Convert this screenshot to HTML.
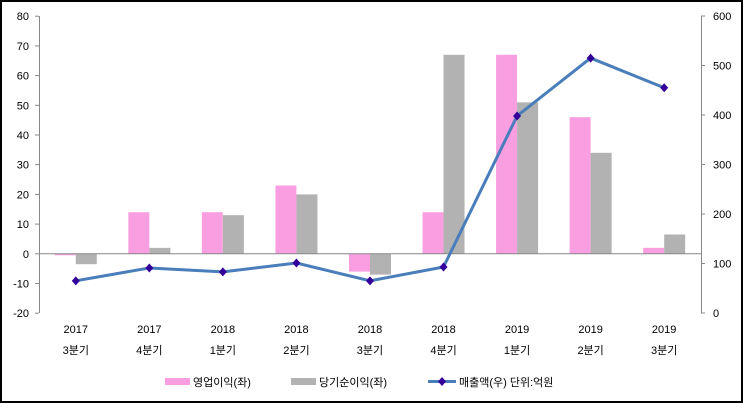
<!DOCTYPE html>
<html><head><meta charset="utf-8"><style>
body{margin:0;background:#fff}
svg{display:block}
text{font-family:"Liberation Sans","Noto Sans CJK KR","NanumGothic",sans-serif;font-size:11px;fill:#000}
</style></head><body>
<svg width="743" height="403" xmlns="http://www.w3.org/2000/svg">
<rect x="1" y="1" width="741" height="401" fill="#fff" stroke="#000" stroke-width="2"/>
<g id="bars"></g>
<g stroke="#888" stroke-width="1">
<line x1="39.5" y1="16" x2="39.5" y2="313"/>
<line x1="701.5" y1="16" x2="701.5" y2="313"/>
<line x1="39" y1="253.8" x2="701" y2="253.8"/>
</g>
<g id="ax" stroke="#888"></g>
<g id="lbl"></g>
<g id="cat"></g>
<polyline id="ln" fill="none" stroke="#4a7ebb" stroke-width="3" stroke-linejoin="round"/>
<g id="mk" fill="#330099"></g>
<rect x="165" y="378" width="25" height="7" fill="#f99ee0"/>
<text x="193" y="386" font-size="12">영업이익(좌)</text>
<rect x="291" y="378" width="25" height="7" fill="#b2b2b2"/>
<text x="319" y="386" font-size="12">당기순이익(좌)</text>
<line x1="428" y1="381.5" x2="456" y2="381.5" stroke="#4a7ebb" stroke-width="3"/>
<path d="M442 377l4 4.5-4 4.5-4-4.5z" fill="#330099"/>
<text x="459" y="386" font-size="12">매출액(우)  단위:억원</text>
</svg>
<script>
const ns="http://www.w3.org/2000/svg";
function el(p,t,a,txt){const e=document.createElementNS(ns,t);for(const k in a)e.setAttribute(k,a[k]);if(txt!=null)e.textContent=txt;document.getElementById(p).appendChild(e);}
const yL=v=>253.8-v*2.97, yR=v=>313-v*0.495;
const pk=[-0.5,14,14,23,-6,14,67,46,2], gr=[-3.5,2,13,20,-7,67,51,34,6.5];
const sl=[65,91,83,101,65,93,398,515,455];
const yrs=["2017","2017","2018","2018","2018","2018","2019","2019","2019"];
const qs=["3분기","4분기","1분기","2분기","3분기","4분기","1분기","2분기","3분기"];
let pts=[];
for(let i=0;i<9;i++){const c=39+73.55*(i+0.5);
 const a=yL(pk[i]),b=yL(gr[i]);
 el("bars","rect",{x:c-21,y:Math.min(a,253.8),width:21,height:Math.abs(a-253.8),fill:"#f99ee0"});
 el("bars","rect",{x:c,y:Math.min(b,253.8),width:21,height:Math.abs(b-253.8),fill:"#b2b2b2"});
 el("cat","text",{x:c,y:333,"text-anchor":"middle"},yrs[i]);
 el("cat","text",{x:c,y:354,"text-anchor":"middle","font-size":"12"},qs[i]);
 const y=yR(sl[i]);pts.push(c+","+y);
 el("mk","path",{d:`M${c} ${y-4.5}l4 4.5-4 4.5-4-4.5z`});
}
document.getElementById("ln").setAttribute("points",pts.join(" "));
for(let v=-20;v<=80;v+=10){const y=yL(v);el("ax","line",{x1:35,x2:39,y1:y,y2:y});el("lbl","text",{x:29,y:y+4,"text-anchor":"end"},v);}
for(let v=0;v<=600;v+=100){const y=yR(v);el("ax","line",{x1:701,x2:705,y1:y,y2:y});el("lbl","text",{x:713,y:y+4},v);}
</script>
</body></html>
